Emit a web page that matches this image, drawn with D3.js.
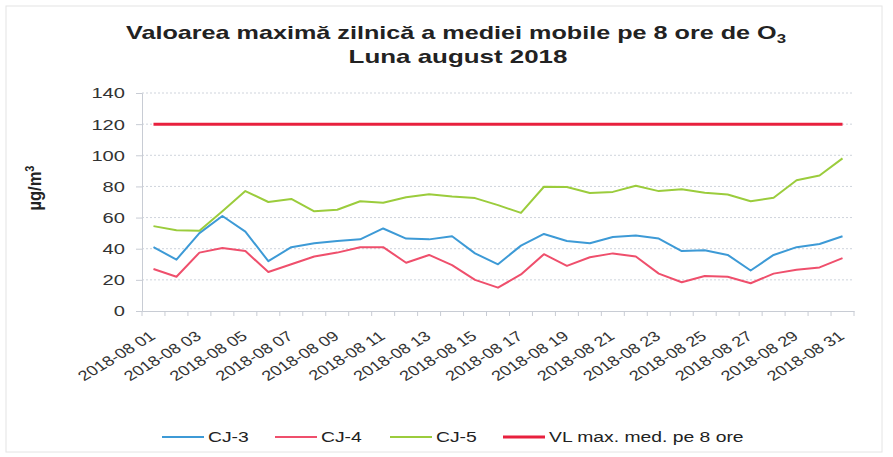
<!DOCTYPE html>
<html>
<head>
<meta charset="utf-8">
<script src="https://cdn.jsdelivr.net/npm/d3@7"></script>
<style>
  body { margin: 0; background: #fff; }
  text { font-family: "Liberation Sans", Arial, sans-serif; }
</style>
</head>
<body>
<div id="chart"></div>
<script>
// chart data
var days = d3.range(1, 32).map(function(d){ return "2018-08 " + (d < 10 ? "0" + d : d) })
var cj3 = [41,33,50,61,51,32,41,43.5,45,46,53,46.5,46,48,37,30,42,49.5,45,43.5,47.5,48.5,46.5,38.5,39,36,26,36,41,43,48]
var cj4 = [27,22,37.5,40.5,38.5,25,30,35,37.5,41,41,31,36,29.5,20,15,23.5,36.5,29,34.5,37,35,24,18.5,22.5,22,17.8,24,26.5,28,34]
var cj5 = [54.5,51.8,51.5,64,77,70,72,64,65,70.5,69.5,73,75,73.5,72.5,68,63,79.8,79.6,75.8,76.5,80.4,77,78.2,76,74.8,70.5,72.7,84,87,98]
var vl = days.map(function(){ return 120 })
var yTicks = [0,20,40,60,80,100,120,140]

var series = [
  {name: "CJ-3", values: cj3, color: "#3d9ad6", width: 2},
  {name: "CJ-4", values: cj4, color: "#ef4f6c", width: 2},
  {name: "CJ-5", values: cj5, color: "#9bcc3c", width: 2},
  {name: "VL max. med. pe 8 ore", values: vl, color: "#e8203e", width: 3}
]

var width = 893
var height = 457
var margin = {left: 142, right: 39, top: 93, bottom: 146}
var stretch = 1.3   // the scan is wider than tall

var svg = d3.select("#chart")
  .append("svg")
    .attr("width", width)
    .attr("height", height)

// scanned frame
svg.append("rect")
  .attr("x", 6).attr("y", 6)
  .attr("width", 876).attr("height", 446)
  .attr("fill", "none")
  .attr("stroke", "#e4e4e4")

var x = d3.scaleBand()
  .domain(days)
  .range([margin.left, width - margin.right])

var y = d3.scaleLinear()
  .domain([0, 140])
  .range([height - margin.bottom, margin.top])

// grid lines
svg.append("g")
  .selectAll("line")
  .data(yTicks.slice(1))
  .enter()
  .append("line")
    .attr("x1", margin.left)
    .attr("x2", width - margin.right)
    .attr("y1", function(d){ return y(d) })
    .attr("y2", function(d){ return y(d) })
    .attr("stroke", "#cfd4dc")
    .attr("stroke-dasharray", "2,2")

// y axis
var yAxis = svg.append("g")
  .attr("transform", "translate(" + margin.left + ",0)")
  .call(d3.axisLeft(y).tickValues(yTicks).tickSize(6))
yAxis.select(".domain").attr("stroke", "#c8ccd4")
yAxis.selectAll(".tick line").attr("stroke", "#c8ccd4")
yAxis.selectAll("text")
  .attr("x", 0)
  .attr("transform", "translate(-17,0) scale(" + stretch + ",1)")
  .attr("font-size", 15.5)
  .attr("fill", "#333")

// x axis
var xAxis = svg.append("g")
  .attr("transform", "translate(0," + y(0) + ")")
  .call(d3.axisBottom(x).tickValues(days.filter(function(d, i){ return i % 2 == 0 })).tickSize(0))
xAxis.select(".domain").attr("stroke", "#c8ccd4")
xAxis.selectAll("text")
  .attr("font-family", "'Open Sans', sans-serif")
  .attr("font-size", 14)
  .attr("fill", "#333")
  .attr("text-anchor", "end")
  .attr("x", 0)
  .attr("y", 0)
  .attr("dy", 0)
  .attr("transform", "translate(3,27) scale(" + stretch + ",1) rotate(-38)")
// tick marks on band boundaries
svg.append("g")
  .selectAll("line")
  .data(days.concat(["end"]))
  .enter()
  .append("line")
    .attr("x1", function(d, i){ return margin.left + i * x.step() })
    .attr("x2", function(d, i){ return margin.left + i * x.step() })
    .attr("y1", y(0))
    .attr("y2", y(0) + 5)
    .attr("stroke", "#c8ccd4")

// lines
var line = d3.line()
  .x(function(d, i){ return x(days[i]) + x.bandwidth() / 2 })
  .y(function(d){ return y(d) })

svg.append("g")
  .selectAll("path")
  .data(series)
  .enter()
  .append("path")
    .attr("d", function(d){ return line(d.values) })
    .attr("fill", "none")
    .attr("stroke", function(d){ return d.color })
    .attr("stroke-width", function(d){ return d.width })
    .attr("stroke-linejoin", "round")

// title
var title = svg.append("text")
  .attr("transform", "translate(456,39) scale(1.4,1)")
  .attr("text-anchor", "middle")
  .attr("font-size", 18)
  .attr("font-weight", "bold")
  .attr("fill", "#222")
title.append("tspan").text("Valoarea maximă zilnică a mediei mobile pe 8 ore de O")
title.append("tspan").attr("font-size", 12).attr("dy", 4).text("3")
svg.append("text")
  .attr("transform", "translate(458,63) scale(1.44,1)")
  .attr("text-anchor", "middle")
  .attr("font-size", 18)
  .attr("font-weight", "bold")
  .attr("fill", "#222")
  .text("Luna august 2018")

// y label
var ylab = svg.append("text")
  .attr("transform", "translate(41,188) scale(1.1,1) rotate(-90)")
  .attr("text-anchor", "middle")
  .attr("font-size", 16.5)
  .attr("font-weight", "bold")
  .attr("fill", "#222")
ylab.append("tspan").text("µg/m")
ylab.append("tspan").attr("font-size", 11).attr("dy", -6).text("3")

// legend
var legendX = [162, 275, 390, 503]
var legend = svg.append("g")
  .selectAll("g")
  .data(series)
  .enter()
  .append("g")
    .attr("transform", function(d, i){ return "translate(" + legendX[i] + ",437)" })
legend.append("line")
  .attr("x1", 0).attr("x2", 42)
  .attr("stroke", function(d){ return d.color })
  .attr("stroke-width", function(d){ return d.width })
legend.append("text")
  .attr("transform", "translate(46,5) scale(1.38,1)")
  .attr("font-size", 14)
  .attr("fill", "#222")
  .text(function(d){ return d.name })
</script>
</body>
</html>
